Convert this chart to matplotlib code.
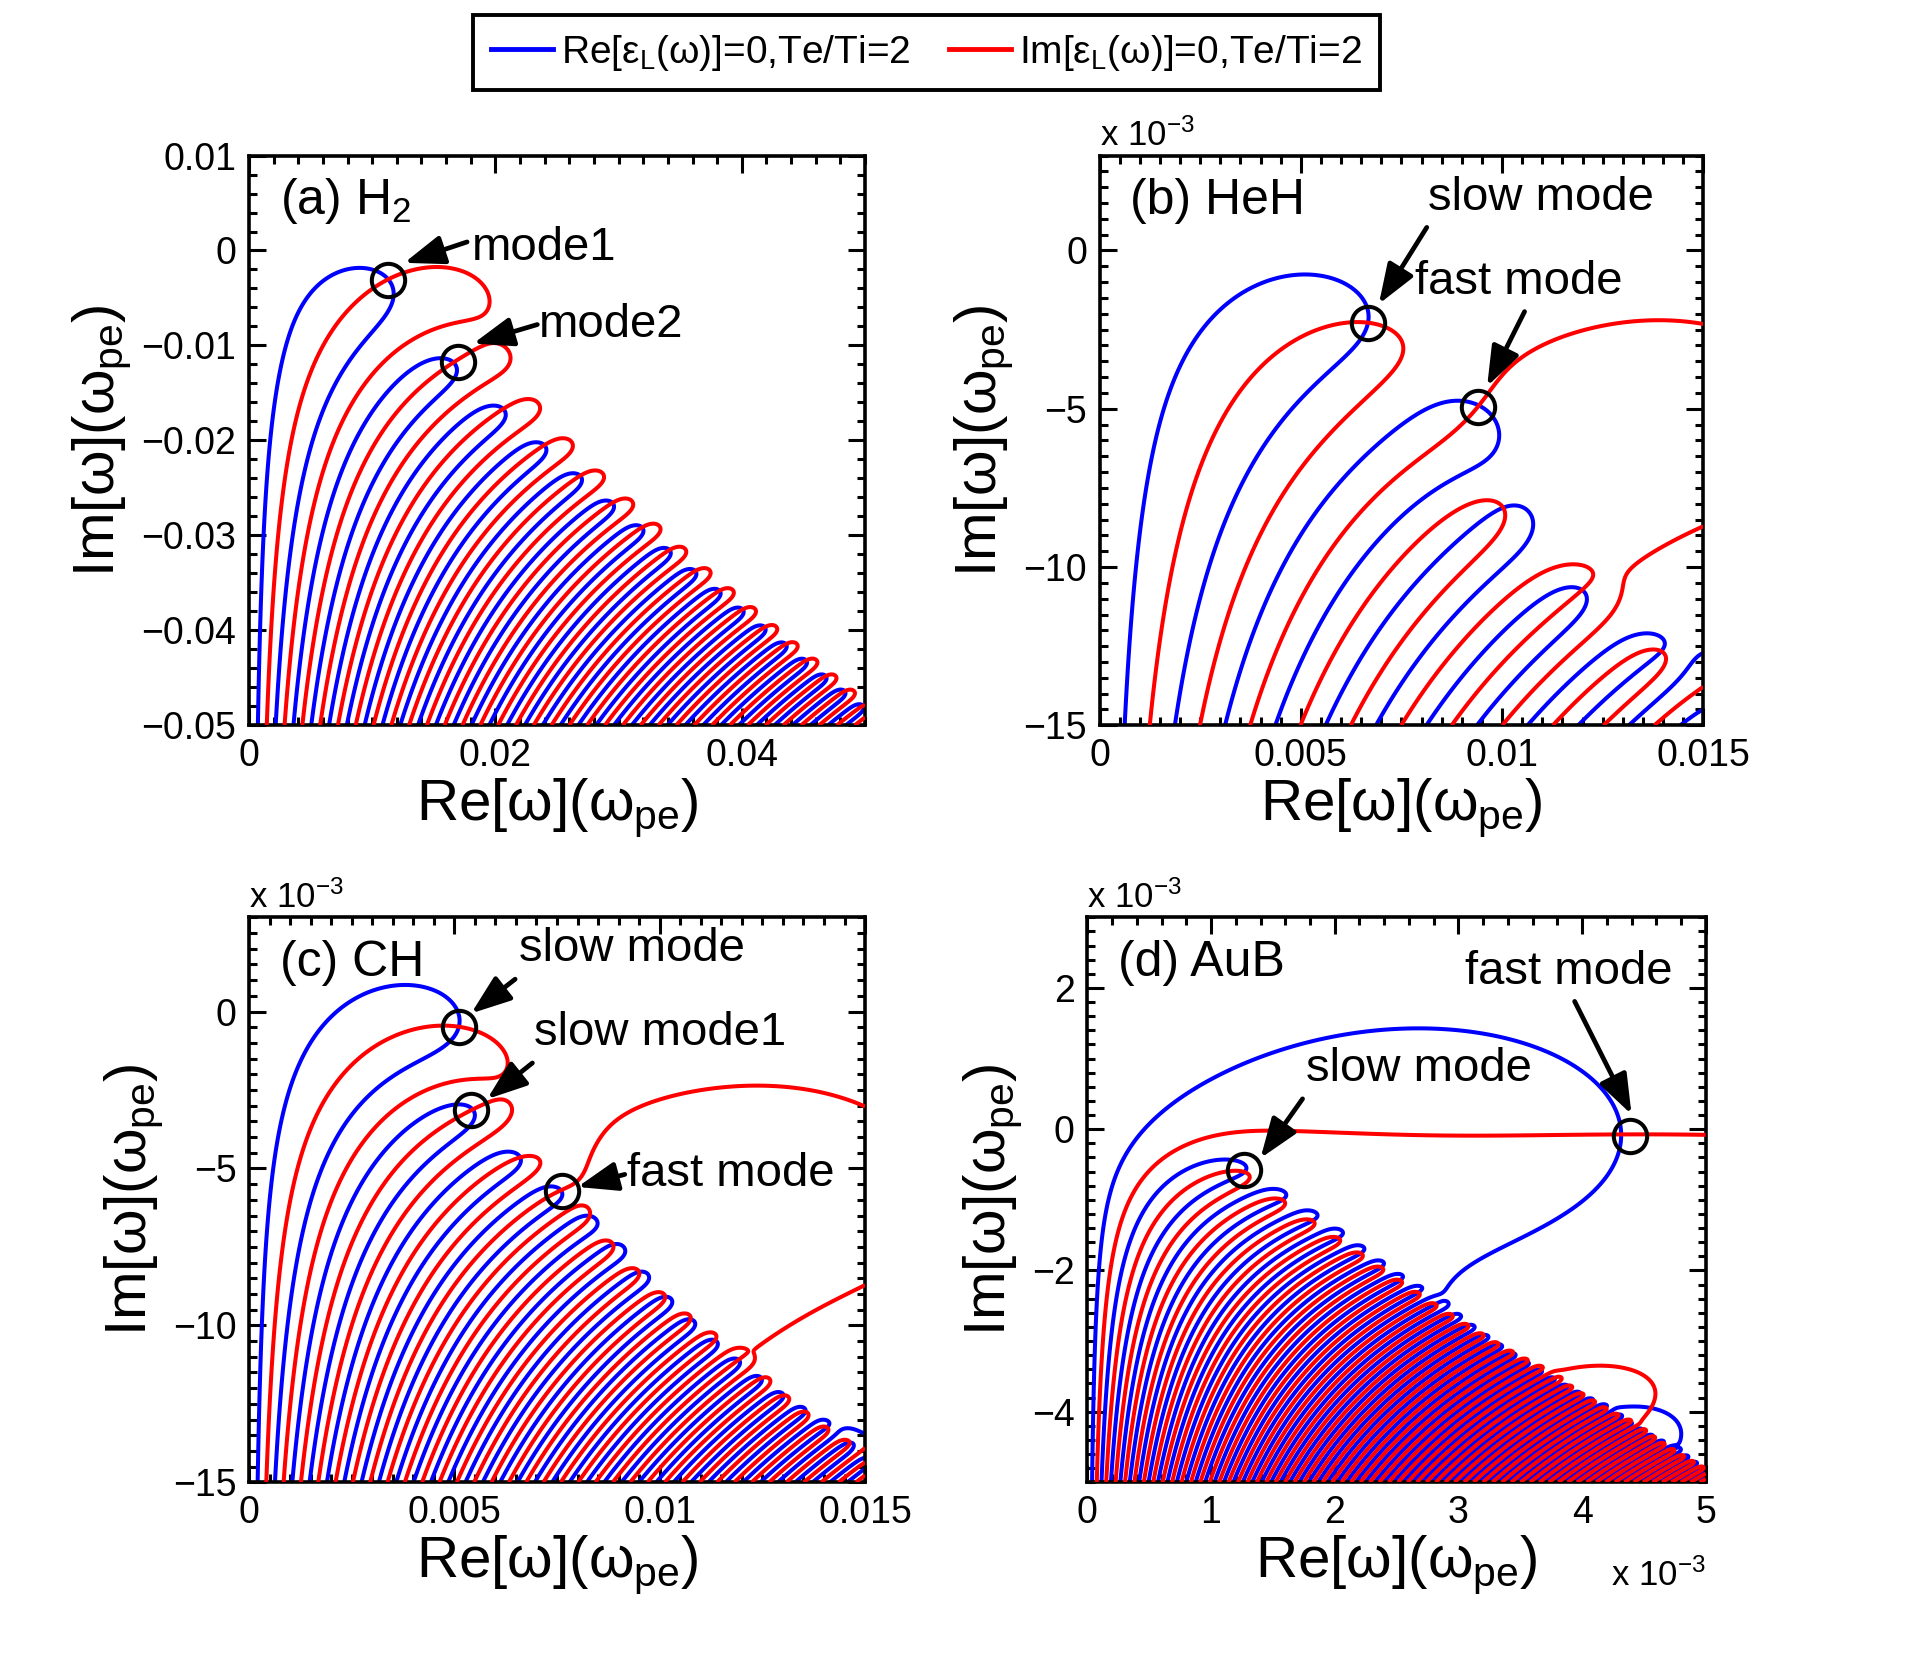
import numpy as np
import matplotlib
matplotlib.use("Agg")
import matplotlib.pyplot as plt
from matplotlib.lines import Line2D
from matplotlib.ticker import MultipleLocator, FuncFormatter

plt.rcParams['font.family'] = ['Liberation Sans', 'DejaVu Sans']
plt.rcParams['mathtext.fontset'] = 'custom'
plt.rcParams['mathtext.rm'] = 'Liberation Sans'
plt.rcParams['mathtext.it'] = 'Liberation Sans'
plt.rcParams['mathtext.bf'] = 'Liberation Sans:bold'
plt.rcParams['axes.unicode_minus'] = True

# ------------------------------------------------------------------ data
TE_OVER_TI = 2.0
AMU_OVER_ME = 1822.888

panel_labels = ["(a) H$_2$", "(b) HeH", "(c) CH", "(d) AuB"]
# ion species of each panel: mass (amu), charge state, relative number density
ion_mass = [[1.008], [4.003, 1.008], [12.011, 1.008], [196.97, 10.81]]
ion_charge = [[1], [2, 1], [6, 1], [79, 5]]
ion_density = [[1], [1, 1], [1, 1], [1, 0.6]]
k_lambda_guess = [0.33, 0.30, 0.33, 0.34]   # k*lambda_De
anchor_mode = [0, 0, 0, 0]                  # circled root used to fix k*lambda_De

x_limits = [(0.0, 0.05), (0.0, 0.015), (0.0, 0.015), (0.0, 0.005)]
y_limits = [(-0.05, 0.01), (-0.015, 0.003), (-0.015, 0.003), (-0.005, 0.003)]
x_major = [0.02, 0.005, 0.005, 0.001]
x_minor = [0.002, 0.0005, 0.0005, 0.0002]
y_major = [0.01, 0.005, 0.005, 0.002]
y_minor = [0.002, 0.0005, 0.0005, 0.0002]
x_factor = [1.0, 1.0, 1.0, 1e3]
y_factor = [1.0, 1e3, 1e3, 1e3]

# circled roots (Re, Im) in units of omega_pe
mode_re = [[0.0113, 0.0170], [6.67e-3, 9.40e-3], [5.11e-3, 5.41e-3, 7.63e-3], [1.27e-3, 4.39e-3]]
mode_im = [[-0.0031, -0.0117], [-2.30e-3, -4.93e-3], [-0.49e-3, -3.13e-3, -5.71e-3], [-0.58e-3, -0.10e-3]]
mode_names = [["mode1", "mode2"], ["slow mode", "fast mode"],
              ["slow mode", "slow mode1", "fast mode"], ["slow mode", "fast mode"]]
text_x = [[0.0181, 0.0235], [8.15e-3, 7.85e-3], [6.57e-3, 6.95e-3, 9.20e-3], [1.77e-3, 3.05e-3]]
text_y = [[0.0003, -0.0078], [1.66e-3, -0.99e-3], [2.0e-3, -0.70e-3, -5.17e-3], [0.85e-3, 2.23e-3]]
arrow_tail_x = [[0.0177, 0.0234], [8.13e-3, 10.56e-3], [6.48e-3, 6.90e-3, 9.15e-3], [1.74e-3, 3.94e-3]]
arrow_tail_y = [[0.0009, -0.0078], [0.73e-3, -1.93e-3], [1.03e-3, -1.64e-3, -5.19e-3], [0.43e-3, 1.81e-3]]
arrow_head_x = [[0.0126, 0.0182], [6.94e-3, 9.63e-3], [5.41e-3, 5.80e-3, 8.00e-3], [1.40e-3, 4.40e-3]]
arrow_head_y = [[-0.0013, -0.0098], [-1.69e-3, -4.29e-3], [-0.06e-3, -2.79e-3, -5.59e-3], [-0.41e-3, 0.21e-3]]

legend_labels = ["Re[ε$_{\\rm L}$(ω)]=0,Te/Ti=2", "Im[ε$_{\\rm L}$(ω)]=0,Te/Ti=2"]
legend_colors = ["#0000ff", "#ff0000"]

axes_boxes = [(0.1307, 0.5649, 0.3234, 0.3418), (0.5772, 0.5649, 0.3169, 0.3418),
              (0.1307, 0.1108, 0.3234, 0.3389), (0.5708, 0.1108, 0.3246, 0.3389)]

# ------------------------------------------------- kinetic dielectric function
SQRT_PI = np.sqrt(np.pi)


def _weideman(N=40):
    M = 2 * N
    k = np.arange(-M + 1, M)
    L = np.sqrt(N / np.sqrt(2.0))
    t = L * np.tan(k * np.pi / M / 2.0)
    f = np.exp(-t ** 2) * (L ** 2 + t ** 2)
    f = np.concatenate(([0.0], f))
    a = np.real(np.fft.fft(np.fft.fftshift(f))) / (2 * M)
    return a[1:N + 1][::-1].copy(), L


W_COEF, W_L = _weideman()


def _w_upper(z):
    d = W_L - 1j * z
    zt = (W_L + 1j * z) / d
    p = np.zeros_like(zt)
    for c in W_COEF:
        p *= zt
        p += c
    return 2.0 * p / d ** 2 + (1.0 / SQRT_PI) / d


def faddeeva(z):
    z = np.asarray(z, dtype=complex)
    out = np.empty_like(z)
    up = z.imag >= 0
    out[up] = _w_upper(z[up])
    lo = ~up
    zl = z[lo]
    out[lo] = 2.0 * np.exp(-zl ** 2) - _w_upper(-zl)
    return out


def plasma_Z(z):
    return 1j * SQRT_PI * faddeeva(z)


def dielectric(om, K, masses, charges, dens):
    om = np.asarray(om, dtype=complex)
    ze = om / (np.sqrt(2.0) * K)
    eps = 1.0 + (1.0 + ze * plasma_Z(ze)) / K ** 2
    ne = sum(n * q for n, q in zip(dens, charges))
    for A, q, n in zip(masses, charges, dens):
        alpha = n * q ** 2 / ne * TE_OVER_TI / K ** 2
        beta = np.sqrt(1.0 / (TE_OVER_TI * A * AMU_OVER_ME))
        zs = om / (np.sqrt(2.0) * K * beta)
        eps = eps + alpha * (1.0 + zs * plasma_Z(zs))
    return eps


def find_root(om0, K, sp):
    om = complex(om0)
    for _ in range(80):
        h = 1e-6 * abs(om)
        v = dielectric(np.array([om - h, om, om + h]), K, *sp)
        der = (v[2] - v[0]) / (2 * h)
        if der == 0 or not np.isfinite(der):
            return np.nan
        step = v[1] / der
        lim = 0.1 * abs(om)
        if abs(step) > lim:
            step *= lim / abs(step)
        om -= step
        if abs(step) < 1e-14:
            break
    return om


def fit_k(i):
    sp = (ion_mass[i], ion_charge[i], ion_density[i])
    K = k_lambda_guess[i]
    j = anchor_mode[i]
    target = complex(mode_re[i][j], mode_im[i][j])
    om = target
    try:
        for _ in range(30):
            root = find_root(om, K, sp)
            if not np.isfinite(root) or root.real <= 0:
                return k_lambda_guess[i]
            ratio = target.real / root.real
            K *= ratio
            om = root * ratio
            if abs(ratio - 1) < 1e-7:
                break
        if abs(om - target) > 0.6 * abs(target) or not (0.05 < K < 2):
            return k_lambda_guess[i]
        return K
    except Exception:
        return k_lambda_guess[i]


def tick_fmt(f):
    def _fmt(v, pos):
        val = round(v * f, 8) + 0.0
        return ("%g" % val).replace('-', '\u2212')
    return FuncFormatter(_fmt)


# ------------------------------------------------------------------ figure
fig = plt.figure(figsize=(19.05, 16.67), dpi=100)

for i in range(4):
    ax = fig.add_axes(axes_boxes[i])
    sp = (ion_mass[i], ion_charge[i], ion_density[i])
    K = fit_k(i)
    x0, x1 = x_limits[i]
    y0, y1 = y_limits[i]
    xs = np.linspace(x0 + (x1 - x0) * 2e-4, x1, 1700)
    ys = np.linspace(y0, y1, 1500)
    X, Y = np.meshgrid(xs, ys)
    E = dielectric(X + 1j * Y, K, *sp)
    mag = np.abs(E)
    mag[~np.isfinite(mag) | (mag == 0)] = 1.0
    ax.contour(X, Y, E.real / mag, levels=[0.0], colors=legend_colors[0], linewidths=2.9, zorder=2)
    ax.contour(X, Y, E.imag / mag, levels=[0.0], colors=legend_colors[1], linewidths=2.9, zorder=3)
    del E, mag, X, Y

    ax.plot(mode_re[i], mode_im[i], 'o', mfc='none', mec='k', ms=24, mew=2.9, zorder=6)
    for j, name in enumerate(mode_names[i]):
        ax.annotate('', xy=(arrow_head_x[i][j], arrow_head_y[i][j]),
                    xytext=(arrow_tail_x[i][j], arrow_tail_y[i][j]),
                    arrowprops=dict(arrowstyle='-|>,head_length=0.9,head_width=0.33',
                                    color='k', lw=3.4, shrinkA=0, shrinkB=0, mutation_scale=27),
                    zorder=7)
        ax.text(text_x[i][j], text_y[i][j], name, fontsize=34, ha='left', va='center', zorder=8)

    ax.text(0.05, 0.897, panel_labels[i], transform=ax.transAxes, fontsize=36,
            ha='left', va='baseline', zorder=8)

    ax.set_xlim(x0, x1)
    ax.set_ylim(y0, y1)
    ax.xaxis.set_major_locator(MultipleLocator(x_major[i]))
    ax.xaxis.set_minor_locator(MultipleLocator(x_minor[i]))
    ax.yaxis.set_major_locator(MultipleLocator(y_major[i]))
    ax.yaxis.set_minor_locator(MultipleLocator(y_minor[i]))
    ax.xaxis.set_major_formatter(tick_fmt(x_factor[i]))
    ax.yaxis.set_major_formatter(tick_fmt(y_factor[i]))
    ax.tick_params(which='both', direction='in', top=True, right=True, width=2.2,
                   labelsize=27)
    ax.tick_params(which='major', length=12, pad=9)
    ax.tick_params(which='minor', length=6)
    for s in ax.spines.values():
        s.set_linewidth(2.6)
    ax.set_xlabel(r'Re[$\omega$]($\omega_{\rm pe}$)', fontsize=42, labelpad=2)
    ax.set_ylabel(r'Im[$\omega$]($\omega_{\rm pe}$)', fontsize=42, labelpad=6)
    if y_factor[i] != 1.0:
        ax.text(0.0, 1.035, r'x 10$^{-3}$', transform=ax.transAxes, fontsize=25,
                ha='left', va='center')
    if x_factor[i] != 1.0:
        ax.text(1.0, -0.165, r'x 10$^{-3}$', transform=ax.transAxes, fontsize=25,
                ha='right', va='center')

handles = [Line2D([0], [0], color=c, lw=3.5) for c in legend_colors]
leg = fig.legend(handles, legend_labels, loc='center', bbox_to_anchor=(0.4863, 0.9683),
                 ncol=2, fontsize=28, frameon=True, fancybox=False, framealpha=1,
                 edgecolor='k', handlelength=1.6, handletextpad=0.2, columnspacing=1.0,
                 borderpad=0.45)
leg.get_frame().set_linewidth(2.8)

fig.savefig("out.png", dpi=100)
